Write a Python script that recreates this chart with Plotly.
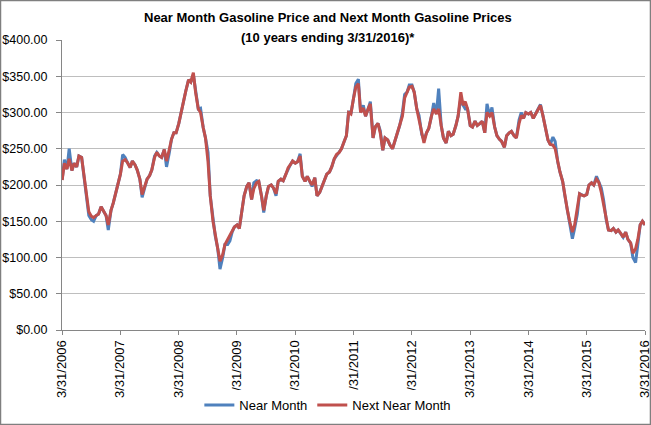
import plotly.graph_objects as go
import pandas as pd

# semi-monthly sample dates (1st and 15th), plus the final day of the window
dates = list(pd.date_range("2006-04-01", periods=240, freq="SMS")) + [pd.Timestamp("2016-03-31")]

# Next Near Month (cents/gal shown as $), one row per Apr-Mar year
next_month = [
    207, 230, 222, 236, 220, 230, 225, 240, 238, 215, 180, 163, 157, 155, 158, 160, 170, 165, 158, 145, 165, 175, 188, 200,
    215, 233, 235, 231, 224, 233, 228, 221, 208, 187, 199, 208, 213, 221, 238, 245, 240, 238, 249, 233, 249, 263, 272, 272,
    285, 300, 318, 330, 345, 342, 355, 328, 305, 300, 279, 265, 232, 185, 150, 130, 112, 95, 104, 118, 125, 130, 135, 142,
    145, 140, 164, 185, 198, 203, 180, 195, 203, 205, 185, 165, 185, 198, 200, 196, 188, 205, 208, 206, 215, 224, 228, 233,
    230, 232, 240, 212, 205, 212, 205, 200, 210, 185, 190, 198, 205, 215, 218, 225, 236, 242, 245, 250, 260, 268, 300, 298,
    320, 335, 340, 300, 306, 295, 305, 312, 265, 280, 285, 272, 248, 265, 262, 255, 250, 260, 270, 282, 295, 320, 328, 335,
    336, 328, 305, 290, 270, 258, 272, 278, 295, 305, 298, 305, 282, 265, 258, 274, 268, 270, 282, 295, 328, 310, 315, 305,
    282, 280, 288, 282, 285, 288, 272, 300, 295, 300, 280, 268, 263, 260, 252, 268, 272, 274, 268, 265, 285, 296, 292, 300,
    298, 300, 292, 298, 305, 310, 295, 278, 262, 256, 255, 250, 232, 218, 205, 185, 165, 150, 135, 145, 170, 188, 186, 185,
    187, 200, 203, 200, 208, 204, 190, 172, 152, 138, 137, 140, 135, 138, 133, 128, 135, 125, 120, 106, 112, 125, 145, 150,
    145,
]

# Near Month, same dates
near_month = [
    207, 235, 222, 250, 220, 230, 225, 240, 238, 215, 180, 158, 152, 150, 158, 160, 170, 165, 158, 138, 165, 175, 188, 200,
    215, 242, 238, 231, 224, 233, 228, 221, 208, 183, 199, 208, 213, 221, 240, 245, 240, 238, 249, 225, 244, 263, 272, 272,
    285, 300, 318, 330, 345, 342, 352, 328, 305, 306, 279, 265, 245, 185, 150, 130, 112, 84, 100, 118, 118, 123, 135, 142,
    145, 140, 164, 185, 198, 203, 180, 203, 206, 205, 185, 162, 185, 198, 200, 196, 185, 205, 208, 206, 215, 222, 228, 233,
    230, 232, 243, 212, 205, 212, 205, 198, 210, 185, 190, 198, 205, 215, 218, 225, 236, 240, 245, 250, 260, 268, 302, 298,
    320, 340, 346, 300, 310, 295, 305, 315, 265, 280, 285, 275, 248, 265, 262, 255, 250, 260, 270, 282, 300, 325, 328, 338,
    338, 328, 305, 296, 270, 262, 272, 278, 295, 313, 298, 333, 282, 265, 258, 274, 268, 270, 282, 295, 320, 310, 305, 305,
    282, 280, 288, 282, 285, 288, 272, 312, 295, 307, 280, 268, 263, 260, 252, 268, 272, 274, 268, 265, 290, 300, 292, 300,
    298, 300, 292, 298, 305, 311, 295, 278, 262, 256, 266, 260, 232, 218, 205, 185, 165, 150, 126, 140, 160, 188, 186, 185,
    187, 200, 203, 200, 212, 204, 196, 180, 152, 138, 137, 140, 135, 138, 133, 128, 135, 125, 120, 100, 93, 118, 145, 150,
    145,
]

year_ticks = [f"{y}-03-31" for y in range(2006, 2017)]
year_labels = [f"3/31/{y}" for y in range(2006, 2017)]

fnt = "Liberation Sans"
grid = "#BEBEBE"
axis_col = "#868686"

fig = go.Figure()
fig.add_trace(go.Scatter(x=dates, y=near_month, mode="lines", name="Near Month",
                         line=dict(color="#4F81BD", width=3)))
fig.add_trace(go.Scatter(x=dates, y=next_month, mode="lines", name="Next Near Month",
                         line=dict(color="#C0504D", width=3)))

# title as two annotations so the lines sit where Excel put them
fig.add_annotation(text="<b>Near Month Gasoline Price and Next Month Gasoline Prices</b>",
                   xref="paper", yref="paper", x=0.456, y=1.079, xanchor="center", yanchor="middle",
                   showarrow=False, font=dict(family=fnt, size=13, color="black"))
fig.add_annotation(text="<b>(10 years ending 3/31/2016)*</b>",
                   xref="paper", yref="paper", x=0.456, y=1.007, xanchor="center", yanchor="middle",
                   showarrow=False, font=dict(family=fnt, size=13, color="black"))

# grey frame round the whole chart area
fig.add_shape(type="rect", xref="paper", yref="paper",
              x0=-0.1055, x1=1.0094, y0=-0.3259, y1=1.1362,
              line=dict(color="#7F7F7F", width=1.5), layer="above")

fig.update_layout(
    width=651, height=425,
    margin=dict(l=62, r=6, t=40, b=95, autoexpand=False),
    paper_bgcolor="white", plot_bgcolor="white",
    font=dict(family=fnt, size=13, color="black"),
    showlegend=True,
    legend=dict(orientation="h", x=0.456, xanchor="center", y=-0.259, yanchor="middle",
                font=dict(family=fnt, size=13), traceorder="normal"),
    xaxis=dict(type="date", range=["2006-03-31", "2016-03-31"], automargin=False,
               tickvals=year_ticks, ticktext=year_labels, tickangle=-90,
               ticklabeloverflow="allow",
               showgrid=False, zeroline=False, showline=True, linecolor=axis_col,
               ticks="outside", ticklen=4, tickcolor=axis_col),
    yaxis=dict(range=[0, 400], dtick=50, tickformat="$.2f", automargin=False,
               tickfont=dict(size=12.5), ticklabelstandoff=6,
               showgrid=True, gridcolor=grid, zeroline=False,
               showline=True, linecolor=axis_col,
               ticks="outside", ticklen=5, tickcolor=axis_col),
)

# page body has a default 8px margin; drop it so the figure fills the window
fig.write_html("out.html", config={"displayModeBar": False},
               post_script="document.body.style.margin='0';")
